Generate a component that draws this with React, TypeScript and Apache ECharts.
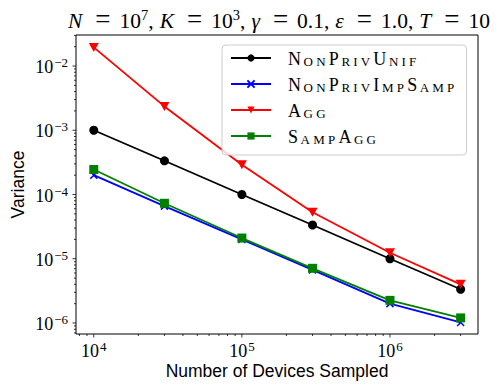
import React, { useEffect, useRef } from 'react';
import * as echarts from 'echarts';

// ---- data ----
const devicesSampled = [1e4, 3e4, 1e5, 3e5, 1e6, 3e6];
const nonPrivUnif = [1.0e-3, 3.35e-4, 1.0e-4, 3.35e-5, 1.0e-5, 3.35e-6];
const nonPrivImpSamp = [2.0e-4, 6.6e-5, 2.0e-5, 6.7e-6, 2.0e-6, 1.02e-6];
const agg = [1.95e-2, 2.35e-3, 2.9e-4, 5.3e-5, 1.24e-5, 4.0e-6];
const sampAgg = [2.45e-4, 7.3e-5, 2.1e-5, 7.1e-6, 2.25e-6, 1.2e-6];
const seriesNames = ['NonPrivUnif', 'NonPrivImpSamp', 'Agg', 'SampAgg'];
const xMajorExps = [4, 5, 6];
const yMajorExps = [-6, -5, -4, -3, -2];
const minorMultipliers = [2, 3, 4, 5, 6, 7, 8, 9];

const X_MIN = 7585;
const X_MAX = 3.93e6;
const Y_MIN = 6.74e-7;
const Y_MAX = 0.0304;

const SERIF = 'Liberation Serif';
const SANS = 'Liberation Sans';

function smallCaps(name: string): string {
  let out = '{sp| }';
  for (const ch of name) {
    if (ch >= 'A' && ch <= 'Z') out += `{c|${ch}}`;
    else out += `{s|${ch.toUpperCase()}}`;
  }
  return out;
}

const tickRich = {
  b: { fontFamily: SERIF, fontSize: 18, lineHeight: 20, verticalAlign: 'bottom', color: '#000' },
  e: { fontFamily: SERIF, fontSize: 13, lineHeight: 13, verticalAlign: 'top', color: '#000', padding: [0, 0, 0, 1] },
};

export default function App() {
  const ref = useRef<HTMLDivElement>(null);
  useEffect(() => {
    if (!ref.current) return;
    const chart = echarts.init(ref.current, null, { renderer: 'svg' });
    const mk = (arr: number[]) => devicesSampled.map((x, i) => [x, arr[i]]);
    const lineW = 1.8;
    chart.setOption({
      animation: false,
      backgroundColor: '#ffffff',
      textStyle: { fontFamily: SERIF },
      grid: { left: 76, right: 20, top: 35, bottom: 58, show: true, borderColor: '#000', borderWidth: 1 },
      xAxis: {
        type: 'log',
        logBase: 10,
        min: X_MIN,
        max: X_MAX,
        axisLine: { show: false },
        axisTick: { show: false },
        splitLine: { show: false },
        axisLabel: {
          showMinLabel: false,
          showMaxLabel: false,
          margin: 6,
          fontFamily: SERIF,
          fontSize: 18,
          color: '#000',
          formatter: (v: number) => `{b|10}{e|${Math.round(Math.log10(v))}}`,
          rich: tickRich,
        },
        name: 'Number of Devices Sampled',
        nameLocation: 'middle',
        nameMoveOverlap: false,
        nameGap: 28,
        nameTextStyle: { fontFamily: SANS, fontSize: 17.5, color: '#000', verticalAlign: 'top' },
      },
      yAxis: {
        type: 'log',
        logBase: 10,
        min: Y_MIN,
        max: Y_MAX,
        axisLine: { show: false },
        axisTick: { show: false },
        splitLine: { show: false },
        axisLabel: {
          showMinLabel: false,
          showMaxLabel: false,
          margin: 8,
          fontFamily: SERIF,
          fontSize: 18,
          color: '#000',
          formatter: (v: number) => `{b|10}{e|\u2212${-Math.round(Math.log10(v))}}`,
          rich: tickRich,
        },
        name: 'Variance',
        nameLocation: 'middle',
        nameMoveOverlap: false,
        nameGap: 49,
        nameTextStyle: { fontFamily: SANS, fontSize: 17.5, color: '#000' },
      },
      legend: {
        data: seriesNames,
        orient: 'vertical',
        left: 222,
        top: 45,
        itemWidth: 40,
        itemHeight: 9,
        itemGap: 8,
        padding: [5, 9, 9, 8],
        backgroundColor: 'rgba(255,255,255,0.8)',
        borderColor: '#cccccc',
        borderWidth: 1,
        borderRadius: 4,
        formatter: (name: string) => smallCaps(name),
        textStyle: {
          color: '#000',
          fontFamily: SERIF,
          fontSize: 18,
          rich: {
            sp: { width: 12, fontSize: 10, fontFamily: SERIF },
            c: { fontFamily: SERIF, fontSize: 18, lineHeight: 20, verticalAlign: 'bottom', padding: [0, 2.6, 0, 0], color: '#000' },
            s: { fontFamily: SERIF, fontSize: 13, lineHeight: 16.8, verticalAlign: 'bottom', padding: [0, 3.2, 0, 0], color: '#000' },
          },
        },
      },
      series: [
        {
          name: seriesNames[0], type: 'line', data: mk(nonPrivUnif),
          symbol: 'circle', symbolSize: 9,
          lineStyle: { color: '#000000', width: lineW },
          itemStyle: { color: '#000000', borderWidth: 0 },
        },
        {
          name: seriesNames[1], type: 'line', data: mk(nonPrivImpSamp),
          symbol: 'path://M0,0L10,10M10,0L0,10', symbolSize: 7,
          lineStyle: { color: '#0000ff', width: lineW },
          itemStyle: { color: '#0000ff', borderColor: '#0000ff', borderWidth: 1.5 },
        },
        {
          name: seriesNames[2], type: 'line', data: mk(agg),
          symbol: 'path://M0,0L10,0L5,9Z', symbolSize: [10, 9],
          lineStyle: { color: '#ff0000', width: lineW },
          itemStyle: { color: '#ff0000', borderWidth: 0 },
        },
        {
          name: seriesNames[3], type: 'line', data: mk(sampAgg),
          symbol: 'rect', symbolSize: 9,
          lineStyle: { color: '#008000', width: lineW },
          itemStyle: { color: '#008000', borderWidth: 0 },
        },
      ],
    });

    // ticks (major + minor), drawn outward from the library's own scales
    const graphics: any[] = [];
    const origin = chart.convertToPixel({ gridIndex: 0 }, [X_MIN, Y_MIN]) as number[];
    const bottomY = origin[1];
    const leftX = origin[0];
    const tickStyle = { stroke: '#000', lineWidth: 0.8 };
    const addX = (v: number, len: number) => {
      if (v < X_MIN || v > X_MAX) return;
      const p = chart.convertToPixel({ gridIndex: 0 }, [v, Y_MIN]) as number[];
      graphics.push({ type: 'line', silent: true, shape: { x1: p[0], y1: bottomY, x2: p[0], y2: bottomY + len }, style: tickStyle });
    };
    const addY = (v: number, len: number) => {
      if (v < Y_MIN || v > Y_MAX) return;
      const p = chart.convertToPixel({ gridIndex: 0 }, [X_MIN, v]) as number[];
      graphics.push({ type: 'line', silent: true, shape: { x1: leftX, y1: p[1], x2: leftX - len, y2: p[1] }, style: tickStyle });
    };
    xMajorExps.forEach((e) => addX(Math.pow(10, e), 3.5));
    yMajorExps.forEach((e) => addY(Math.pow(10, e), 3.5));
    for (let k = 3; k <= 6; k++) minorMultipliers.forEach((m) => addX(m * Math.pow(10, k), 2));
    for (let k = -7; k <= -2; k++) minorMultipliers.forEach((m) => addY(m * Math.pow(10, k), 2));

    // title (LaTeX-like math spacing)
    const tMain = { fontFamily: SERIF, fontSize: 21.5, lineHeight: 25, verticalAlign: 'bottom', color: '#000' };
    const tIt = { ...tMain, fontStyle: 'italic', padding: [0, 4, 0, 3] };
    const tEq = { ...tMain, fontSize: 27, lineHeight: 24.5, padding: [0, 9, 0, 9] };
    const tCm = { ...tMain, padding: [0, 3, 0, 0] };
    const tSup = { fontFamily: SERIF, fontSize: 14.5, lineHeight: 15, verticalAlign: 'top', color: '#000' };
    graphics.push({
      type: 'text',
      silent: true,
      x: 277.5,
      y: 7,
      style: {
        text:
          '{i|N}{q|=}{t|10}{u|7}{c|,}{i|K}{q|=}{t|10}{u|3}{c|,}{i|γ}{q|=}{t|0.1}{c|,}{i|ε}{q|=}{t|1.0}{c|,}{i|T}{q|=}{t|10}',
        align: 'center',
        verticalAlign: 'top',
        fontFamily: SERIF,
        fontSize: 21.5,
        rich: { t: tMain, i: tIt, q: tEq, c: tCm, u: tSup },
      },
    });
    chart.setOption({ graphic: graphics });

    return () => chart.dispose();
  }, []);
  return <div ref={ref} style={{ width: 498, height: 392, position: 'absolute', left: 0, top: 0 }} />;
}
